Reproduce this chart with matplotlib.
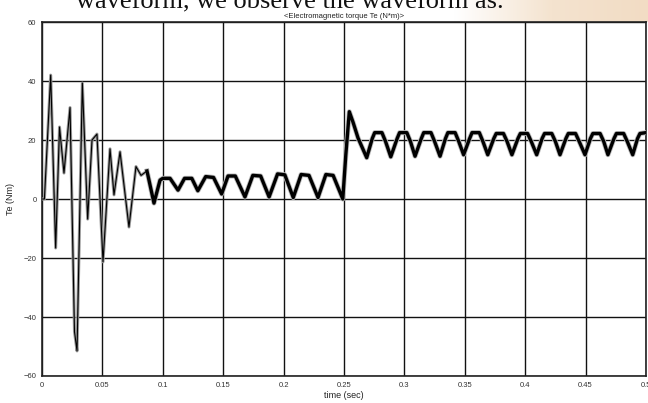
import numpy as np
import matplotlib.pyplot as plt
from matplotlib.colors import LinearSegmentedColormap

# torque samples
t = [0, 0.002, 0.0072, 0.0113, 0.0145, 0.0182, 0.0232, 0.0269, 0.029, 0.0334,
     0.0378, 0.0414, 0.0455, 0.0505, 0.0563, 0.0596, 0.0646, 0.072, 0.0778, 0.082,
     0.0869, 0.0927, 0.0977,
     0.1000, 0.1060, 0.1126, 0.1180, 0.1240, 0.1290, 0.1355, 0.1420, 0.1487,
     0.1540, 0.1600, 0.1680, 0.1745, 0.1810, 0.1880,
     0.1950, 0.2010, 0.2080, 0.2145, 0.2210, 0.2285, 0.2350, 0.2410, 0.2490,
     0.2515, 0.2544, 0.2575, 0.2616, 0.2688,
     0.2734, 0.2754, 0.2814, 0.2844, 0.2887,
     0.2940, 0.2960, 0.3020, 0.3050, 0.3088,
     0.3140, 0.3160, 0.3220, 0.3250, 0.3295,
     0.3340, 0.3360, 0.3420, 0.3450, 0.3490,
     0.3540, 0.3560, 0.3620, 0.3650, 0.3690,
     0.3740, 0.3760, 0.3820, 0.3850, 0.3890,
     0.3940, 0.3960, 0.4020, 0.4050, 0.4095,
     0.4140, 0.4160, 0.4220, 0.4250, 0.4288,
     0.4337, 0.4357, 0.4417, 0.4447, 0.4495,
     0.4540, 0.4560, 0.4620, 0.4650, 0.4685,
     0.4735, 0.4755, 0.4815, 0.4845, 0.4890,
     0.4930, 0.4950, 0.5000]
te = [0, 0, 42, -16.6, 24.4, 8.8, 31, -45, -51.5, 39.3,
      -6.8, 20, 22, -21.3, 17, 1.4, 16, -9.5, 11, 8,
      9.5, -1.4, 6.4,
      7, 7, 3, 7, 7, 2.8, 7.6, 7.3, 1.7,
      7.8, 7.8, 0.7, 8, 7.8, 0.7,
      8.5, 8.2, 0.5, 8.3, 8, 0.5, 8.3, 8, 0,
      15, 29.6, 26, 20.7, 14,
      20.5, 22.5, 22.5, 19.5, 14.3,
      20.5, 22.5, 22.5, 19.5, 14.5,
      20.5, 22.5, 22.5, 19.5, 14.5,
      20.5, 22.5, 22.5, 19.5, 15,
      20.5, 22.5, 22.5, 19.5, 15,
      20.5, 22.2, 22.2, 19.5, 15,
      20.5, 22.2, 22.2, 19.5, 15,
      20.5, 22.2, 22.2, 19.5, 15,
      20.5, 22.2, 22.2, 19.5, 15,
      20.5, 22.2, 22.2, 19.5, 15,
      20.5, 22.2, 22.2, 19.5, 15,
      20.5, 22.2, 22.5]

xticks = [0, 0.05, 0.1, 0.15, 0.2, 0.25, 0.3, 0.35, 0.4, 0.45, 0.5]
xticklabels = ["0", "0.05", "0.1", "0.15", "0.2", "0.25", "0.3", "0.35", "0.4", "0.45", "0.5"]
yticks = [-60, -40, -20, 0, 20, 40, 60]

plt.rcParams['font.family'] = ['Liberation Sans', 'DejaVu Sans']

fig = plt.figure(figsize=(6.48, 4.03), dpi=100)

# beige strip of the scanned page at the top right
bg = fig.add_axes([0.70, 0.945, 0.30, 0.055], zorder=0)
grad = np.linspace(0, 1, 200).reshape(1, -1)
bg.imshow(grad, aspect='auto', extent=[0, 1, 0, 1],
          cmap=LinearSegmentedColormap.from_list("pg", ["#ffffff", "#f4e3cf", "#f2dcc4"]))
bg.axis('off')

# cut-off sentence from the page above the figure
fig.text(290 / 648, 1 - 8 / 403, "waveform, we observe the waveform as.",
         fontsize=19, family='Liberation Serif', ha='center', va='baseline', color='#111111')

ax = fig.add_axes([42 / 648, 1 - 376 / 403, 604 / 648, 354 / 403], zorder=1)

t_arr = np.array(t)
te_arr = np.array(te)
ax.plot(t_arr, te_arr, color='#9a9a9a', lw=2.2, zorder=3)
tr = t_arr <= 0.0977
ax.plot(t_arr[tr], te_arr[tr], color='black', lw=0.8, zorder=4)
ss = t_arr >= 0.0869
ax.plot(t_arr[ss], te_arr[ss], color='#bbbbbb', lw=3.6, zorder=3)
ax.plot(t_arr[ss], te_arr[ss], color='black', lw=2.4, zorder=4)

ax.set_xlim(0, 0.5)
ax.set_ylim(-60, 60)
ax.set_xticks(xticks)
ax.set_xticklabels(xticklabels)
ax.set_yticks(yticks)
ax.tick_params(length=0, labelsize=5.5, labelcolor='#333333', pad=4)
ax.grid(True, color='#111111', lw=1.0)
ax.set_axisbelow(True)
for s in ax.spines.values():
    s.set_linewidth(1.2)
    s.set_color('#222222')

ax.set_title("<Electromagnetic torque Te (N*m)>", fontsize=5.5, color='#222222', pad=3)
ax.set_xlabel("time (sec)", fontsize=6.5, color='#222222', labelpad=2)
ax.set_ylabel("Te (Nm)", fontsize=6.5, color='#222222', labelpad=6)

fig.savefig("out.png", dpi=100)
